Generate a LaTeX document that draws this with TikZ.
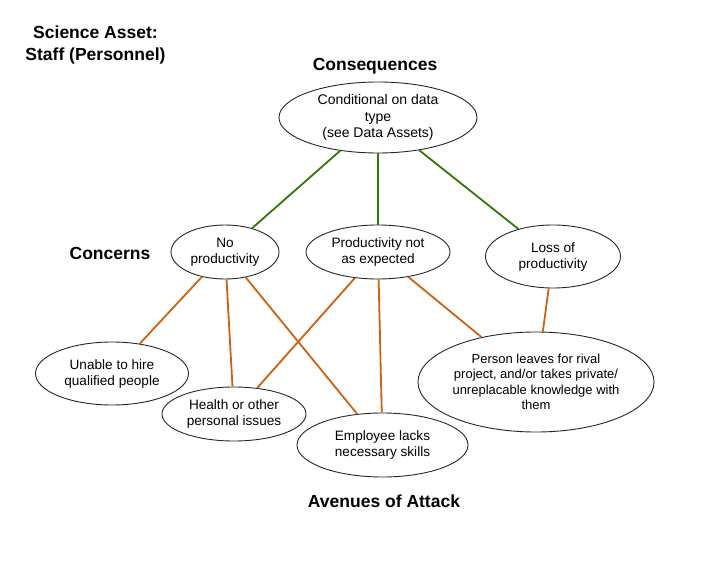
\documentclass[tikz,border=0pt]{standalone}
\usepackage{fontspec}
\setmainfont{Liberation Sans}
\usetikzlibrary{shapes.geometric}

\definecolor{consgreen}{RGB}{52,118,8}
\definecolor{attackorange}{RGB}{204,98,18}

\begin{document}
\begin{tikzpicture}[
        x=1pt, y=-1pt,
        heading/.style={font=\fontsize{17.5}{22}\selectfont\bfseries, align=center},
        bubble/.style={ellipse, draw=black!85, line width=0.9pt, inner sep=0pt,
            align=center, font=\fontsize{13.6}{16}\selectfont},
        green link/.style={draw=consgreen, line width=1.8pt},
        orange link/.style={draw=attackorange, line width=1.8pt}
    ]

    \useasboundingbox (0,0) rectangle (720,588);

    % Headings
    \node[heading] (title) at (95.5,44.5) {Science Asset:\\Staff (Personnel)};
    \node[heading] (conshead) at (375,66) {Consequences};
    \node[heading] (concernhead) at (110,253) {Concerns};
    \node[heading] (attackhead) at (384,501) {Avenues of Attack};

    % Consequence
    \node[bubble, minimum width=198pt, minimum height=71pt,
          font=\fontsize{14}{16.5}\selectfont] (cond) at (378,117.5)
        {Conditional on data\\type\\(see Data Assets)};

    % Concerns
    \node[bubble, minimum width=108pt, minimum height=54pt] (noprod) at (225,252)
        {No\\productivity};
    \node[bubble, minimum width=144pt, minimum height=54pt] (notexp) at (378,252)
        {Productivity not\\as expected};
    \node[bubble, minimum width=135pt, minimum height=63pt] (loss) at (553,256.5)
        {Loss of\\productivity};

    % Avenues of attack
    \node[bubble, minimum width=153pt, minimum height=63pt] (hire) at (112,373.5)
        {Unable to hire\\qualified people};
    \node[bubble, minimum width=144pt, minimum height=54pt] (health) at (234,414)
        {Health or other\\personal issues};
    \node[bubble, minimum width=171pt, minimum height=64pt] (skills) at (382.5,445)
        {Employee lacks\\necessary skills};
    \node[bubble, minimum width=226pt, minimum height=100pt,
          font=\fontsize{13}{15.5}\selectfont] (leaves) at (536,382)
        {Person leaves for rival\\project, and/or takes private/\\unreplacable knowledge with\\them};

    % Links
    \draw[green link] (cond) -- (noprod);
    \draw[green link] (cond) -- (notexp);
    \draw[green link] (cond) -- (loss);

    \draw[orange link] (noprod) -- (hire);
    \draw[orange link] (noprod) -- (health);
    \draw[orange link] (noprod) -- (skills);
    \draw[orange link] (notexp) -- (health);
    \draw[orange link] (notexp) -- (skills);
    \draw[orange link] (notexp) -- (leaves);
    \draw[orange link] (loss) -- (leaves);

\end{tikzpicture}
\end{document}
